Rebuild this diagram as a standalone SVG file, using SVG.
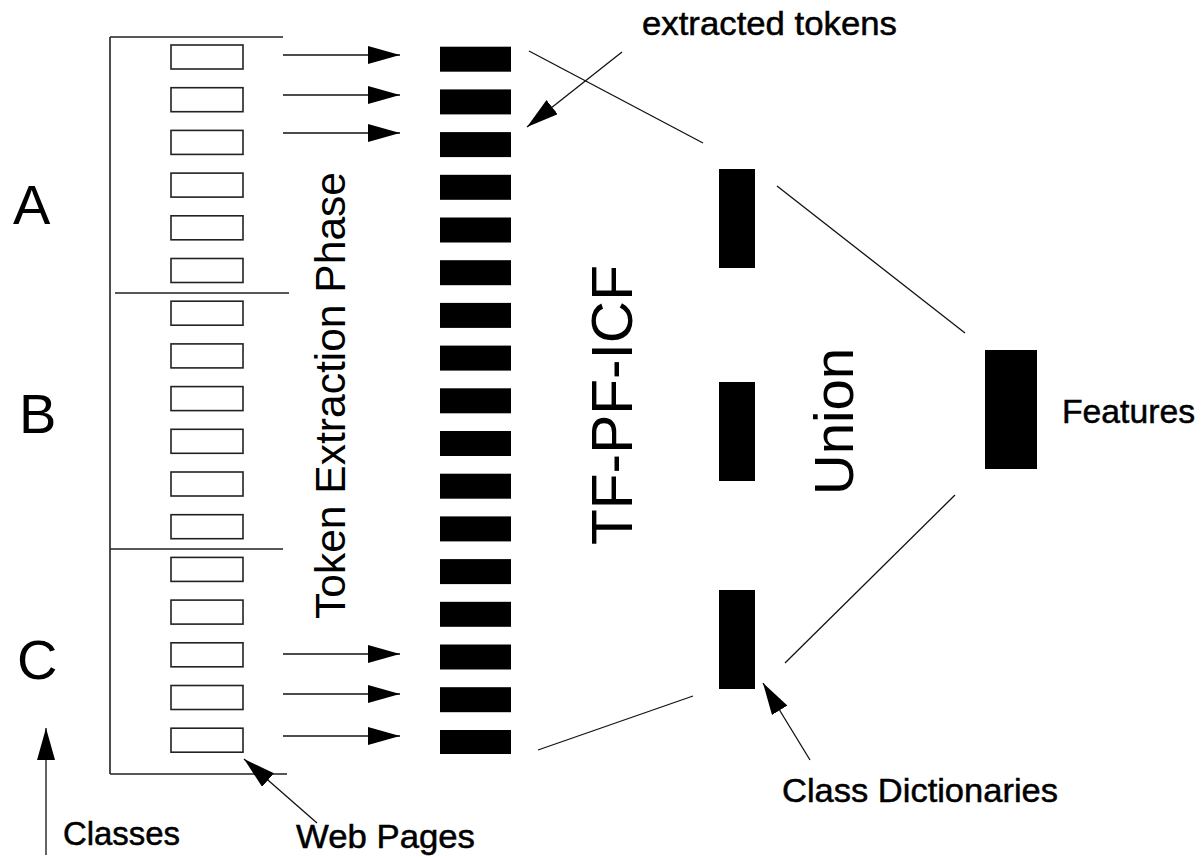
<svg xmlns="http://www.w3.org/2000/svg" width="1201" height="857" viewBox="0 0 1201 857">
<style>
text{font-family:"Liberation Sans",Arial,sans-serif;fill:#000}
.page{fill:#fff;stroke:#222;stroke-width:1.6}
.tok{fill:#000}
.blk{fill:#000}
.br{stroke:#222;stroke-width:1.6;fill:none}
.ln{stroke:#111;stroke-width:1.3;fill:none}
.ar{stroke:#111;stroke-width:1.3;fill:none;marker-end:url(#ah)}
.lbl{font-size:33px;stroke:#000;stroke-width:0.5}
</style>
<defs>
<marker id="ah" markerUnits="userSpaceOnUse" markerWidth="34" markerHeight="20" refX="32" refY="9" orient="auto">
<path d="M0,0 L32,9 L0,18 Z" fill="#000"/>
</marker>
</defs>
<rect width="1201" height="857" fill="#fff"/>

<g id="bracket">
<path class="br" d="M110,37 V774 M110,37 H283 M115,293 H289 M110,549 H283 M110,774 H287"/>
</g>

<g id="class-labels">
<text x="13" y="224" font-size="56">A</text>
<text x="19" y="433" font-size="56">B</text>
<text x="17" y="679" font-size="56">C</text>
</g>

<g id="web-pages">
<rect class="page" x="171" y="45" width="72" height="24"/>
<rect class="page" x="171" y="87.7" width="72" height="24"/>
<rect class="page" x="171" y="130.4" width="72" height="24"/>
<rect class="page" x="171" y="173.1" width="72" height="24"/>
<rect class="page" x="171" y="215.8" width="72" height="24"/>
<rect class="page" x="171" y="258.5" width="72" height="24"/>
<rect class="page" x="171" y="301.2" width="72" height="24"/>
<rect class="page" x="171" y="343.9" width="72" height="24"/>
<rect class="page" x="171" y="386.6" width="72" height="24"/>
<rect class="page" x="171" y="429.3" width="72" height="24"/>
<rect class="page" x="171" y="472" width="72" height="24"/>
<rect class="page" x="171" y="514.7" width="72" height="24"/>
<rect class="page" x="171" y="557.4" width="72" height="24"/>
<rect class="page" x="171" y="600.1" width="72" height="24"/>
<rect class="page" x="171" y="642.8" width="72" height="24"/>
<rect class="page" x="171" y="685.5" width="72" height="24"/>
<rect class="page" x="171" y="728.2" width="72" height="24"/>
</g>

<g id="token-extraction-label">
<text transform="translate(345,619) rotate(-90)" font-size="42" textLength="447" lengthAdjust="spacingAndGlyphs">Token Extraction Phase</text>
</g>

<g id="extracted-tokens">
<rect class="tok" x="440" y="46.7" width="71" height="25"/>
<rect class="tok" x="440" y="89.4" width="71" height="25"/>
<rect class="tok" x="440" y="132.1" width="71" height="25"/>
<rect class="tok" x="440" y="174.8" width="71" height="25"/>
<rect class="tok" x="440" y="217.5" width="71" height="25"/>
<rect class="tok" x="440" y="260.2" width="71" height="25"/>
<rect class="tok" x="440" y="302.9" width="71" height="25"/>
<rect class="tok" x="440" y="345.6" width="71" height="25"/>
<rect class="tok" x="440" y="388.3" width="71" height="25"/>
<rect class="tok" x="440" y="431" width="71" height="25"/>
<rect class="tok" x="440" y="473.7" width="71" height="25"/>
<rect class="tok" x="440" y="516.4" width="71" height="25"/>
<rect class="tok" x="440" y="559.1" width="71" height="25"/>
<rect class="tok" x="440" y="601.8" width="71" height="25"/>
<rect class="tok" x="440" y="644.5" width="71" height="25"/>
<rect class="tok" x="440" y="687.2" width="71" height="25"/>
<rect class="tok" x="440" y="730" width="71" height="24"/>
</g>

<g id="tfpficf-label">
<text transform="translate(632,545) rotate(-90)" font-size="58" textLength="280" lengthAdjust="spacingAndGlyphs">TF-PF-ICF</text>
</g>

<g id="class-dictionaries">
<rect class="blk" x="719" y="169" width="36" height="99"/>
<rect class="blk" x="719" y="382" width="36" height="99"/>
<rect class="blk" x="719" y="590" width="36" height="99"/>
</g>

<g id="union-label">
<text transform="translate(853,495) rotate(-90)" font-size="56" textLength="147" lengthAdjust="spacingAndGlyphs">Union</text>
</g>

<g id="features">
<rect class="blk" x="985" y="350" width="52" height="119"/>
<text class="lbl" x="1062" y="423" textLength="133" lengthAdjust="spacingAndGlyphs">Features</text>
</g>

<g id="annotations">
<text class="lbl" x="642" y="35" textLength="255" lengthAdjust="spacingAndGlyphs">extracted tokens</text>
<text class="lbl" x="782" y="802" textLength="276" lengthAdjust="spacingAndGlyphs">Class Dictionaries</text>
<text class="lbl" x="63" y="845" textLength="117" lengthAdjust="spacingAndGlyphs">Classes</text>
<text class="lbl" x="296" y="848" textLength="179" lengthAdjust="spacingAndGlyphs">Web Pages</text>
</g>

<g id="connectors">
<path class="ar" d="M283,55 H400"/>
<path class="ar" d="M283,95 H400"/>
<path class="ar" d="M283,133 H400"/>
<path class="ar" d="M283,654 H400"/>
<path class="ar" d="M283,694 H400"/>
<path class="ar" d="M283,736 H400"/>
<path class="ln" d="M529,51 L703,143"/>
<path class="ar" d="M622,52 L527,127"/>
<path class="ln" d="M777,186 L965,333"/>
<path class="ln" d="M955,495 L785,663"/>
<path class="ln" d="M538,750 L693,696"/>
<path class="ar" d="M810,760 L763,683"/>
<path class="ar" d="M317,823 L244,759"/>
<path class="ar" d="M46,855 L46,728"/>
</g>
</svg>
